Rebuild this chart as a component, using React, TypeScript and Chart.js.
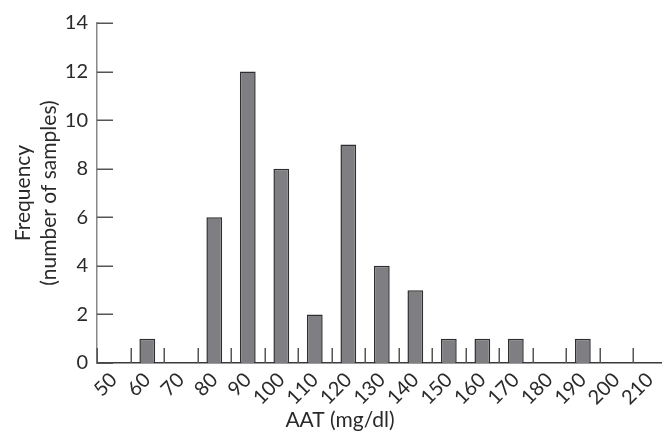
import React, { useEffect, useRef } from "react";
import { Chart, registerables } from "chart.js";

Chart.register(...registerables);

const categories = ["50", "60", "70", "80", "90", "100", "110", "120", "130", "140", "150", "160", "170", "180", "190", "200", "210"];
const frequencies = [0, 1, 0, 6, 12, 8, 2, 9, 4, 3, 1, 1, 1, 0, 1, 0, 0];
const yTitle = ["Frequency", "(number of samples)"];
const xTitle = "AAT (mg/dl)";

const FONT = "Lato, 'Open Sans', sans-serif";
const TEXT = "#2a2a2a";

const tickMarks = {
  id: "tickMarks",
  afterDatasetsDraw(chart: any) {
    const { ctx } = chart;
    const x = chart.scales.x;
    const y = chart.scales.y;
    ctx.save();
    ctx.lineWidth = 1.5;
    ctx.strokeStyle = "#555";
    y.ticks.forEach((_t: any, i: number) => {
      const py = Math.round(y.getPixelForTick(i)) + 0.25;
      ctx.beginPath();
      ctx.moveTo(x.left, py);
      ctx.lineTo(x.left + 16, py);
      ctx.stroke();
    });
    const n = x.ticks.length;
    const w = (x.right - x.left) / n;
    for (let i = 0; i < n; i++) {
      const px = Math.round(x.getPixelForTick(i) - w / 2) + 0.25;
      ctx.beginPath();
      ctx.moveTo(px, y.bottom);
      ctx.lineTo(px, y.bottom - 15);
      ctx.stroke();
    }
    ctx.fillStyle = TEXT;
    ctx.font = `21px ${FONT}`;
    ctx.textAlign = "center";
    ctx.textBaseline = "alphabetic";
    ctx.fillText(xTitle, 340, 427);
    ctx.restore();
  },
};

export default function App() {
  const ref = useRef<HTMLCanvasElement | null>(null);
  useEffect(() => {
    document.body.style.overflow = "hidden";
    const chart = new Chart(ref.current as HTMLCanvasElement, {
      type: "bar",
      data: {
        labels: categories,
        datasets: [
          {
            data: frequencies.map((v) => (v === 0 ? null : v)),
            backgroundColor: "#7e7e83",
            borderColor: "#2e2e2e",
            borderWidth: 1.5,
            borderSkipped: "bottom",
            barPercentage: 0.47,
            categoryPercentage: 1,
          },
        ],
      },
      options: {
        animation: false,
        responsive: false,
        maintainAspectRatio: false,
        layout: { padding: { left: 14, right: 5, top: 23, bottom: 0 } },
        plugins: {
          legend: { display: false },
          tooltip: { enabled: false },
        },
        scales: {
          x: {
            grid: { display: false, drawTicks: false },
            border: { display: true, color: "#3a3a3a", width: 1.5 },
            ticks: {
              color: TEXT,
              font: { family: FONT, size: 20 },
              minRotation: 45,
              maxRotation: 45,
              padding: 5,
              autoSkip: false,
            },
            afterFit(scale: any) {
              scale.height = 68;
            },
          },
          y: {
            min: 0,
            max: 14,
            grid: { display: false, drawTicks: false },
            border: { display: true, color: "#888", width: 1.5 },
            ticks: {
              stepSize: 2,
              color: TEXT,
              font: { family: FONT, size: 20 },
              padding: 9,
            },
            title: {
              display: true,
              text: yTitle,
              color: TEXT,
              font: { family: FONT, size: 21, lineHeight: 1.2 },
              padding: { top: -3, bottom: 0 },
            },
            afterFit(scale: any) {
              scale.width = 83;
            },
          },
        },
      },
      plugins: [tickMarks],
    } as any);
    return () => chart.destroy();
  }, []);
  return (
    <div style={{ position: "fixed", left: 0, top: 0, width: 672, height: 431 }}>
      <canvas ref={ref} width={672} height={431} style={{ width: 672, height: 431, display: "block" }} />
    </div>
  );
}
